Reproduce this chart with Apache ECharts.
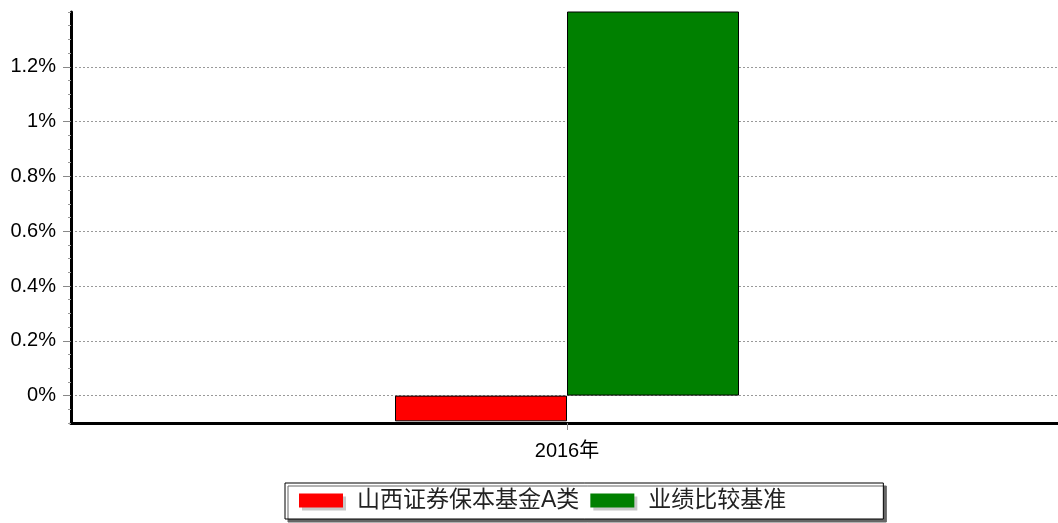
<!DOCTYPE html>
<html><head><meta charset="utf-8">
<script src="https://cdn.jsdelivr.net/npm/echarts@6/dist/echarts.min.js"></script>
<style>html,body{margin:0;padding:0;background:#fff;overflow:hidden;width:1058px;height:523px}#c{width:1063px;height:523px}</style>
</head><body><div id="c"></div>
<script>
var categories = ['2016年'];
var seriesNames = ['山西证券保本基金A类', '业绩比较基准'];
var fundValues = [-0.094];
var benchValues = [1.45];
var yMin = -0.1, yMax = 1.4;
var labelMin = 0, labelInterval = 0.2, minorInterval = 0.05;

var chart = echarts.init(document.getElementById('c'));
var font = 'Liberation Sans, Arial, Noto Sans CJK SC, sans-serif';
var gridL = 71, gridR = 0, gridTop = 12, gridBottom = 100;
var zeroBottom = 523 - (gridTop + (yMax - 0) / (yMax - yMin) * (523 - gridTop - gridBottom));
chart.setOption({
  animation: false,
  grid: [
    {left: gridL, right: gridR, top: gridTop, bottom: gridBottom},
    {left: gridL, right: gridR, top: gridTop, bottom: zeroBottom}
  ],
  legend: {
    left: 285, top: 483,
    itemWidth: 44, itemHeight: 14, itemGap: 11,
    padding: [6, 97, 7, 14],
    borderColor: '#000', borderWidth: 1, backgroundColor: '#fff',
    shadowColor: '#666', shadowOffsetX: 3, shadowOffsetY: 3, shadowBlur: 0,
    textStyle: {fontSize: 23, color: '#222', fontFamily: font, padding: [0, 0, 0, 9]},
    itemStyle: {shadowColor: '#c8c8c8', shadowOffsetX: 3, shadowOffsetY: 3, shadowBlur: 0, borderWidth: 0},
    icon: 'rect',
    data: seriesNames
  },
  xAxis: [{
    type: 'category', data: categories, gridIndex: 0,
    axisLine: {onZero: false, lineStyle: {color: '#000', width: 3}},
    axisTick: {show: true, alignWithLabel: true, length: 7, lineStyle: {color: '#888'}},
    axisLabel: {fontSize: 20, color: '#000', margin: 18, fontFamily: font}
  }, {
    type: 'category', data: categories, gridIndex: 1, show: false
  }],
  yAxis: [{
    type: 'value', gridIndex: 0, min: yMin, max: yMax, interval: minorInterval,
    axisLine: {show: true, lineStyle: {color: '#000', width: 3}},
    axisTick: {show: true, length: 3, lineStyle: {color: '#999'}},
    splitLine: {show: false},
    axisLabel: {show: false}
  }, {
    type: 'value', gridIndex: 1, min: labelMin, max: yMax, interval: labelInterval,
    axisLine: {show: false},
    axisTick: {show: true, length: 8, lineStyle: {color: '#888'}},
    splitLine: {show: true, lineStyle: {color: ['#999', '#999', '#999', '#999', '#999', '#999', '#999', 'rgba(0,0,0,0)'], type: [2, 2], width: 1}},
    axisLabel: {fontSize: 20, color: '#000', margin: 15, fontFamily: font,
      showMaxLabel: false,
      formatter: function (v) { return (Math.round(v * 10) / 10) + '%'; }}
  }],
  series: [
    {name: seriesNames[0], type: 'bar', xAxisIndex: 0, yAxisIndex: 0, data: fundValues, barWidth: 172, barGap: '0%',
      itemStyle: {color: '#ff0000', borderColor: '#000', borderWidth: 1}},
    {name: seriesNames[1], type: 'bar', xAxisIndex: 0, yAxisIndex: 0, data: benchValues, barWidth: 172, barGap: '0%',
      itemStyle: {color: '#008000', borderColor: '#000', borderWidth: 1}}
  ]
});
</script></body></html>
